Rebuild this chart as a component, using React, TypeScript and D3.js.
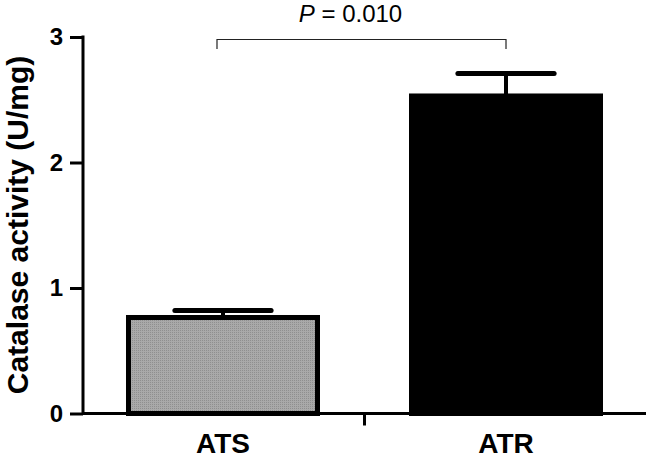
import React, { useEffect, useRef } from 'react';
import * as d3 from 'd3';

const groups = ['ATS', 'ATR'];
const means = [0.765, 2.53];
const sems = [0.055, 0.18];
const yTicks = [0, 1, 2, 3];
const pLabel = '0.010';

const App = () => {
  const svgRef = useRef<SVGSVGElement>(null);

  useEffect(() => {
    const width = 650;
    const height = 458;
    const svg = d3.select(svgRef.current);
    svg.selectAll('*').remove();
    svg.attr('width', width).attr('height', height);

    const x = d3.scaleBand()
      .domain(groups)
      .range([81, 648])
      .paddingInner(0.3145)
      .paddingOuter(0.159);

    const y = d3.scaleLinear().domain([0, 3]).range([413.5, 37]);
    const step = x.step();
    const bw = x.bandwidth();

    // dotted grey fill for ATS
    const defs = svg.append('defs');
    const pat = defs.append('pattern')
      .attr('id', 'dots')
      .attr('width', 2).attr('height', 2)
      .attr('patternUnits', 'userSpaceOnUse');
    pat.append('rect').attr('width', 2).attr('height', 2).attr('fill', '#a9a9a9');
    pat.append('rect').attr('width', 1).attr('height', 1).attr('fill', '#8f8f8f');

    const fills = ['url(#dots)', '#000'];

    // bars
    svg.selectAll('rect.bar')
      .data(means)
      .enter()
      .append('rect')
      .attr('class', 'bar')
      .attr('x', (d, i) => x(groups[i])! + 2.5)
      .attr('y', d => y(d))
      .attr('width', bw - 5)
      .attr('height', d => y(0) - y(d))
      .attr('fill', (d, i) => fills[i])
      .attr('stroke', '#000')
      .attr('stroke-width', 5);

    // error bars
    const cx = (i: number) => x(groups[i])! + bw / 2;
    const capHalf = step * 0.17;
    means.forEach((m, i) => {
      svg.append('line')
        .attr('x1', cx(i)).attr('x2', cx(i))
        .attr('y1', y(m)).attr('y2', y(m + sems[i]))
        .attr('stroke', '#000').attr('stroke-width', 4);
      svg.append('line')
        .attr('x1', cx(i) - capHalf).attr('x2', cx(i) + capHalf)
        .attr('y1', y(m + sems[i])).attr('y2', y(m + sems[i]))
        .attr('stroke', '#000').attr('stroke-width', 5)
        .attr('stroke-linecap', 'round');
    });

    // y axis
    const yAxis = svg.append('g')
      .attr('transform', `translate(${83},0)`)
      .call(d3.axisLeft(y).tickValues(yTicks).tickFormat(d3.format('d')).tickSize(13).tickPadding(7));
    yAxis.select('.domain').remove();
    yAxis.selectAll('line').attr('stroke', '#000').attr('stroke-width', 3);
    yAxis.selectAll('text')
      .attr('font-family', 'Liberation Sans, Arial, sans-serif')
      .attr('font-weight', 'bold')
      .attr('font-size', 24)
      .attr('fill', '#000');
    svg.append('line')
      .attr('x1', 83).attr('x2', 83)
      .attr('y1', y(3) - 1.5).attr('y2', y(0) + 1.5)
      .attr('stroke', '#000').attr('stroke-width', 3);

    // x axis
    svg.append('line')
      .attr('x1', 83).attr('x2', 646)
      .attr('y1', y(0)).attr('y2', y(0))
      .attr('stroke', '#000').attr('stroke-width', 3);
    const mid = x(groups[0])! + bw + (step - bw) / 2;
    svg.append('line')
      .attr('x1', mid).attr('x2', mid)
      .attr('y1', y(0)).attr('y2', y(0) + 12)
      .attr('stroke', '#000').attr('stroke-width', 3);

    svg.selectAll('text.xlab')
      .data(groups)
      .enter()
      .append('text')
      .attr('class', 'xlab')
      .attr('x', d => x(d)! + bw / 2)
      .attr('y', 453)
      .attr('text-anchor', 'middle')
      .attr('font-family', 'Liberation Sans, Arial, sans-serif')
      .attr('font-weight', 'bold')
      .attr('font-size', 28)
      .text(d => d);

    // y label
    svg.append('text')
      .attr('transform', `translate(28,${225}) rotate(-90)`)
      .attr('text-anchor', 'middle')
      .attr('font-family', 'Liberation Sans, Arial, sans-serif')
      .attr('font-weight', 'bold')
      .attr('font-size', 30)
      .text('Catalase activity (U/mg)');

    // significance bracket
    const bx1 = cx(0) - 6;
    const bx2 = cx(1);
    svg.append('path')
      .attr('d', `M${bx1},49V39.5H${bx2}V49`)
      .attr('fill', 'none')
      .attr('stroke', '#222')
      .attr('stroke-width', 1.2);

    const pt = svg.append('text')
      .attr('x', (bx1 + bx2) / 2 - 11)
      .attr('y', 22)
      .attr('text-anchor', 'middle')
      .attr('font-family', 'Liberation Sans, Arial, sans-serif')
      .attr('font-size', 24);
    pt.append('tspan').attr('font-style', 'italic').text('P');
    pt.append('tspan').text(` = ${pLabel}`);
  }, []);

  return (
    <svg ref={svgRef} style={{ position: 'absolute', left: 0, top: 0, background: '#fff' }}></svg>
  );
};

export default App;
